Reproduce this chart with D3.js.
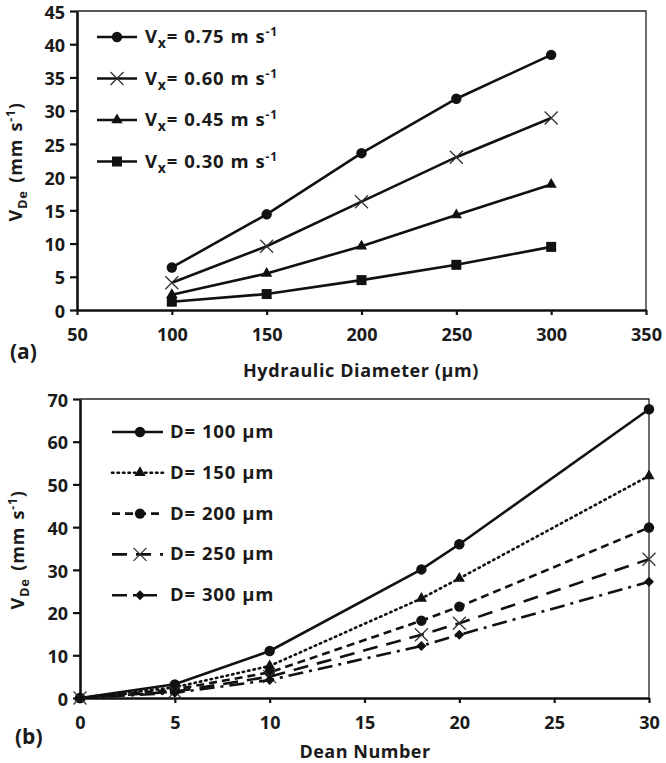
<!DOCTYPE html>
<html><head><meta charset="utf-8">
<script src="https://cdn.jsdelivr.net/npm/d3@7"></script>
<style>body{margin:0;background:#fff}svg{display:block}text{font-family:"Open Sans",Lato,sans-serif;font-weight:bold;fill:#1a1a1a}</style>
</head><body><svg id="c" width="666" height="763"></svg>
<script>
// ---- Panel (a) data ----
const diamA = [100, 150, 200, 250, 300];
const vx075 = [6.4, 14.4, 23.6, 31.8, 38.4];
const vx060 = [4.1, 9.6, 16.3, 23.0, 28.9];
const vx045 = [2.3, 5.5, 9.6, 14.3, 18.9];
const vx030 = [1.25, 2.4, 4.5, 6.8, 9.5];
const seriesANames = ["0.75", "0.60", "0.45", "0.30"];
const ticksAx = [50, 100, 150, 200, 250, 300, 350];
const ticksAy = [0, 5, 10, 15, 20, 25, 30, 35, 40, 45];
// ---- Panel (b) data ----
const deanB = [0, 5, 10, 18, 20, 30];
const d100 = [0, 3.2, 11.0, 30.1, 36.0, 67.6];
const d150 = [0, 2.5, 7.5, 23.3, 28.0, 52.0];
const d200 = [0, 2.0, 6.0, 18.1, 21.4, 39.9];
const d250 = [0, 1.5, 5.0, 14.8, 17.5, 32.5];
const d300 = [0, 1.2, 4.2, 12.2, 14.8, 27.2];
const seriesBNames = ["100", "150", "200", "250", "300"];
const ticksBx = [0, 5, 10, 15, 20, 25, 30];
const ticksBy = [0, 10, 20, 30, 40, 50, 60, 70];

const svg = d3.select("#c");
const INK = "#111";
const FS = "18px";

function marker(g, type, x, y) {
  if (type === "circle") g.append("circle").attr("cx", x).attr("cy", y).attr("r", 5.2).attr("fill", INK);
  else if (type === "square") g.append("rect").attr("x", x - 5).attr("y", y - 5).attr("width", 10).attr("height", 10).attr("fill", INK);
  else if (type === "triangle") g.append("path").attr("d", d3.symbol(d3.symbolTriangle, 55)()).attr("transform", `translate(${x},${y})`).attr("fill", INK);
  else if (type === "diamond") g.append("path").attr("d", `M${x},${y-5}L${x+5},${y}L${x},${y+5}L${x-5},${y}Z`).attr("fill", INK);
  else if (type === "x") g.append("path").attr("d", `M${x-6.5},${y-6.5}L${x+6.5},${y+6.5}M${x-6.5},${y+6.5}L${x+6.5},${y-6.5}`).attr("stroke", "#333").attr("stroke-width", 1.3).attr("fill", "none");
}

function frame(x, y, x0, x1, y0, y1, tx, ty, tickLen) {
  const g = svg.append("g");
  g.append("path").attr("d", `M${x0},${y1}H${x1}V${y0}`).attr("stroke", "#222").attr("stroke-width", 1.3).attr("fill", "none");
  const ax = g.append("g").attr("transform", `translate(0,${y0})`).call(d3.axisBottom(x).tickValues(tx).tickSize(tickLen).tickSizeOuter(0).tickPadding(13));
  const ay = g.append("g").attr("transform", `translate(${x0},0)`).call(d3.axisLeft(y).tickValues(ty).tickSize(7).tickSizeOuter(0).tickPadding(5));
  [ax, ay].forEach(a => {
    a.select(".domain").attr("stroke", INK).attr("stroke-width", 2.6);
    a.selectAll(".tick line").attr("stroke", INK).attr("stroke-width", 2.2);
    a.selectAll(".tick text").style("font-size", FS).attr("fill", "#1a1a1a");
  });
  ay.selectAll(".tick text").attr("dy", "0.4em");
  return g;
}

function ytitle(cx, cy) {
  const t = svg.append("text").attr("transform", `translate(${cx},${cy}) rotate(-90)`).attr("text-anchor", "middle")
    .style("font-size", FS).style("letter-spacing", "0.8px").style("word-spacing", "2px");
  t.append("tspan").text("V");
  t.append("tspan").text("De").style("font-size", "13px").attr("dy", 5);
  t.append("tspan").text(" (mm s").attr("dy", -5);
  t.append("tspan").text("-1").style("font-size", "12px").attr("dy", -7);
  t.append("tspan").text(")").attr("dy", 7);
}

// ===== Panel (a) =====
const xA = d3.scaleLinear().domain([50, 350]).range([77, 646]);
const yA = d3.scaleLinear().domain([0, 45]).range([310, 11]);
frame(xA, yA, 77, 646, 310, 11, ticksAx, ticksAy, 5);
const seriesA = [vx075, vx060, vx045, vx030];
const markA = ["circle", "x", "triangle", "square"];
const lineA = d3.line().x(d => xA(d[0])).y(d => yA(d[1]));
seriesA.forEach((vals, i) => {
  const pts = diamA.map((d, j) => [d, vals[j]]);
  svg.append("path").attr("d", lineA(pts)).attr("stroke", INK).attr("stroke-width", 2.6).attr("fill", "none");
  const g = svg.append("g");
  pts.forEach(p => marker(g, markA[i], xA(p[0]), yA(p[1])));
});
seriesANames.forEach((n, i) => {
  const y = 37 + i * 41.5;
  svg.append("line").attr("x1", 97).attr("x2", 137).attr("y1", y).attr("y2", y).attr("stroke", INK).attr("stroke-width", 2.6);
  marker(svg.append("g"), markA[i], 117, y);
  const t = svg.append("text").attr("x", 145).attr("y", y + 6).style("font-size", "18.5px")
    .style("letter-spacing", "0.8px").style("word-spacing", "0.5px");
  t.append("tspan").text("V");
  t.append("tspan").text("x").style("font-size", "14px").attr("dy", 5);
  t.append("tspan").text("= " + n + " m s").attr("dy", -5);
  t.append("tspan").text("-1").style("font-size", "12px").attr("dy", -7);
});
ytitle(22, 162);
svg.append("text").attr("x", 361).attr("y", 377).attr("text-anchor", "middle").style("font-size", FS)
  .style("letter-spacing", "0.6px").text("Hydraulic Diameter (\u03bcm)");
svg.append("text").attr("x", 10).attr("y", 359).style("font-size", "21px").text("(a)");

// ===== Panel (b) =====
const xB = d3.scaleLinear().domain([0, 30]).range([80, 649]);
const yB = d3.scaleLinear().domain([0, 70]).range([698, 399]);
frame(xB, yB, 80, 649, 698, 399, ticksBx, ticksBy, 5);
const seriesB = [d100, d150, d200, d250, d300];
const markB = ["circle", "triangle", "circle", "x", "diamond"];
const dashB = [null, "1.5,4", "8,5", "15,9", "15,6,3,6"];
const capB = ["butt", "round", "butt", "butt", "butt"];
const lineB = d3.line().x(d => xB(d[0])).y(d => yB(d[1]));
seriesB.forEach((vals, i) => {
  const pts = deanB.map((d, j) => [d, vals[j]]);
  svg.append("path").attr("d", lineB(pts)).attr("stroke", INK).attr("stroke-width", 2.6).attr("fill", "none")
    .attr("stroke-dasharray", dashB[i]).attr("stroke-linecap", capB[i]);
  const g = svg.append("g");
  pts.forEach(p => marker(g, markB[i], xB(p[0]), yB(p[1])));
});
seriesBNames.forEach((n, i) => {
  const y = 432 + i * 40.8;
  svg.append("line").attr("x1", 112).attr("x2", 163).attr("y1", y).attr("y2", y).attr("stroke", INK).attr("stroke-width", 2.6)
    .attr("stroke-dasharray", dashB[i]).attr("stroke-linecap", capB[i]);
  marker(svg.append("g"), markB[i], 140, y);
  svg.append("text").attr("x", 170).attr("y", y + 6).style("font-size", "18.5px")
    .style("letter-spacing", "0.8px").style("word-spacing", "0.5px").text("D= " + n + " \u03bcm");
});
ytitle(24, 550);
svg.append("text").attr("x", 365).attr("y", 758).attr("text-anchor", "middle").style("font-size", FS)
  .style("letter-spacing", "0.5px").text("Dean Number");
svg.append("text").attr("x", 15).attr("y", 744).style("font-size", "21px").text("(b)");
</script></body></html>
